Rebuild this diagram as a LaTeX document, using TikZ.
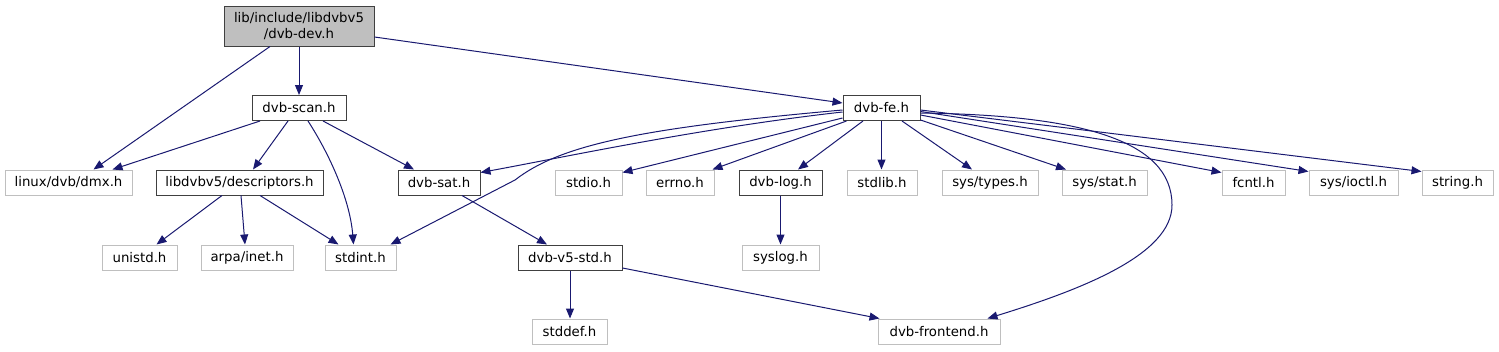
\documentclass[tikz,border=0pt]{standalone}
\usepackage{fontspec}
\setmainfont{DejaVu Sans}
\usetikzlibrary{arrows.meta,calc}
\definecolor{edgec}{HTML}{191970}
\definecolor{grayb}{HTML}{BFBFBF}
\definecolor{darkb}{HTML}{404040}
\begin{document}
\begin{tikzpicture}[x=1pt,y=-1pt,
  box/.style={rectangle, minimum height=25pt, inner sep=0pt, line width=1pt,
    font=\fontsize{13.3}{15.5}\selectfont},
  dep/.style={box, draw=darkb},
  ext/.style={box, draw=grayb},
  e/.style={draw=edgec, line width=1pt, -{Triangle[length=10pt,width=8pt]}}]
\useasboundingbox (0,0) rectangle (1499,351);
% nodes
\node[box, draw=darkb, fill=grayb, minimum width=150pt, minimum height=40pt, align=center] (main) at (299,26) {lib/include/libdvbv5\\/dvb-dev.h};
\node[dep, minimum width=94pt] (scan) at (299,108) {dvb-scan.h};
\node[dep, minimum width=77pt] (fe) at (881.5,108) {dvb-fe.h};
\node[ext, minimum width=127pt] (dmx) at (68.5,182.5) {linux/dvb/dmx.h};
\node[dep, minimum width=167pt] (desc) at (239.5,182.5) {libdvbv5/descriptors.h};
\node[dep, minimum width=82pt] (sat) at (439,182.5) {dvb-sat.h};
\node[ext, minimum width=67pt] (stdio) at (588.5,182.5) {stdio.h};
\node[ext, minimum width=68pt] (errno) at (680,182.5) {errno.h};
\node[dep, minimum width=83pt] (log) at (780.5,182.5) {dvb-log.h};
\node[ext, minimum width=70pt] (stdlib) at (882,182.5) {stdlib.h};
\node[ext, minimum width=96pt] (types) at (990,182.5) {sys/types.h};
\node[ext, minimum width=85pt] (stat) at (1104.5,182.5) {sys/stat.h};
\node[ext, minimum width=63pt] (fcntl) at (1253.5,182.5) {fcntl.h};
\node[ext, minimum width=89pt] (ioctl) at (1353.5,182.5) {sys/ioctl.h};
\node[ext, minimum width=71pt] (string) at (1457.5,182.5) {string.h};
\node[ext, minimum width=75pt] (unistd) at (139.5,257.5) {unistd.h};
\node[ext, minimum width=92pt] (inet) at (247,257.5) {arpa/inet.h};
\node[ext, minimum width=71pt] (stdint) at (360.5,257.5) {stdint.h};
\node[dep, minimum width=104pt] (v5std) at (570,257.5) {dvb-v5-std.h};
\node[ext, minimum width=77pt] (syslog) at (780.5,257.5) {syslog.h};
\node[ext, minimum width=75pt] (stddef) at (569.5,331.5) {stddef.h};
\node[ext, minimum width=122pt] (frontend) at (939,331.5) {dvb-frontend.h};
% edges from main
\draw[e] ($(main.south)+(-29,0)$) -- ($(dmx.north)+(25,0)$);
\draw[e] (main.south) -- (scan.north);
\draw[e] ($(main.east)+(0,11)$) -- ($(fe.west)+(0,-5)$);
% edges from scan
\draw[e] ($(scan.south)+(-39,0)$) -- ($(dmx.north)+(44,0)$);
\draw[e] ($(scan.south)+(-11,0)$) -- ($(desc.north)+(13.5,0)$);
\draw[e] ($(scan.south)+(9,0)$) .. controls (330,155) and (350,200) .. ($(stdint.north)+(-7,0)$);
\draw[e] ($(scan.south)+(24,0)$) -- ($(sat.north)+(-25,0)$);
% edges from descriptors
\draw[e] ($(desc.south)+(-17.5,0)$) -- ($(unistd.north)+(17,0)$);
\draw[e] ($(desc.south)+(1.5,0)$) -- ($(inet.north)+(-2,0)$);
\draw[e] ($(desc.south)+(20.5,0)$) -- ($(stdint.north)+(-22,0)$);
% sat and v5std
\draw[e] ($(sat.south)+(23,0)$) -- ($(v5std.north)+(-23,0)$);
\draw[e] (v5std.south) -- (v5std.south |- stddef.north);
\draw[e] ($(v5std.east)+(0,10.5)$) -- ($(frontend.north west)+(2,0)$);
% edges from fe to the left
\draw[e] ($(fe.west)+(0,4)$) .. controls (700,128) and (560,158) .. ($(sat.east)+(0,-10)$);
\draw[e] ($(fe.west)+(0,2)$) .. controls (640,128) and (560,145) .. (515,180) -- ($(stdint.north)+(30,0)$);
\draw[e] ($(fe.west)+(0,10)$) -- ($(stdio.east)+(0,-10)$);
\draw[e] ($(fe.south west)+(4,0)$) -- ($(errno.north east)+(-2,0)$);
\draw[e] ($(fe.south)+(-18.5,0)$) -- ($(log.north)+(17.5,0)$);
\draw[e] (fe.south) -- (fe.south |- stdlib.north);
\draw[e] ($(fe.south)+(20.5,0)$) -- ($(types.north)+(-18,0)$);
% edges from fe to the right
\draw[e] ($(fe.south east)+(0,-1)$) -- ($(stat.north)+(-38.5,0)$);
\draw[e] ($(fe.east)+(0,7)$) -- ($(fcntl.west)+(0,-10)$);
\draw[e] ($(fe.east)+(0,3.5)$) -- ($(ioctl.west)+(0,-11)$);
\draw[e] ($(fe.east)+(0,2)$) -- ($(string.west)+(0,-11)$);
\draw[e] ($(fe.east)+(0,5)$) .. controls (1080,115) and (1172,140) .. (1172,205) .. controls (1172,255) and (1080,290) .. ($(frontend.north east)+(-13,0)$);
% log
\draw[e] (log.south) -- (log.south |- syslog.north);
\end{tikzpicture}
\end{document}
